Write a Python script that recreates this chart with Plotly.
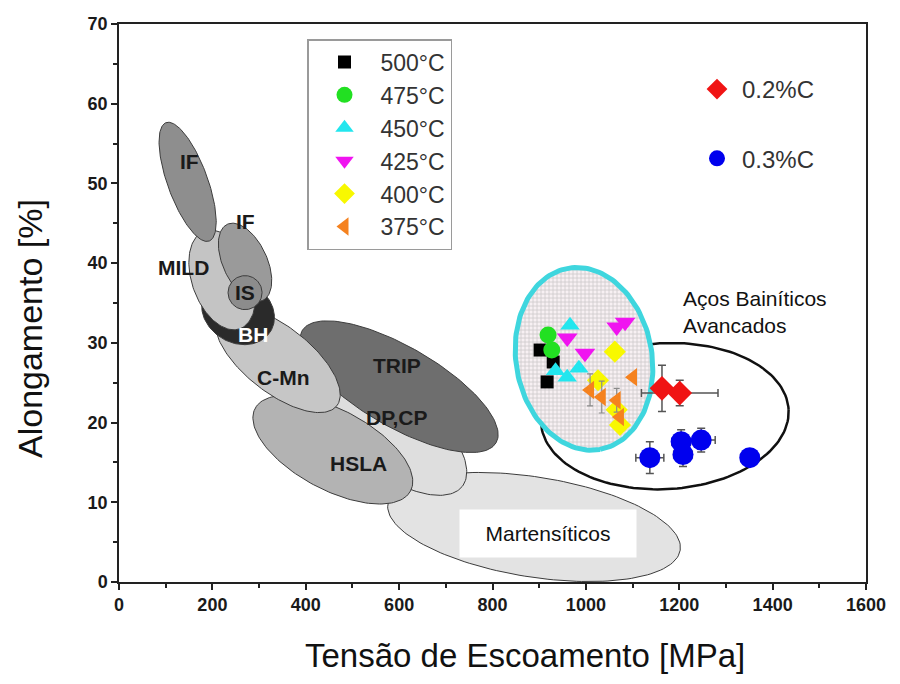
import numpy as np
import plotly.graph_objects as go

# ---------------- data ----------------
temp_labels = ["500°C", "475°C", "450°C", "425°C", "400°C", "375°C"]
x500 = [902, 930, 917];              y500 = [29.1, 27.6, 25.1]
x475 = [919, 927];                   y475 = [31.0, 29.1]
x450 = [966, 935, 960, 985];         y450 = [32.2, 26.5, 25.7, 26.8]
x425 = [960, 998, 1066, 1084];       y425 = [30.6, 28.7, 32.0, 32.6]
x400 = [1062, 1026, 1066, 1073];     y400 = [28.9, 25.3, 21.6, 19.7]
x375 = [1101, 1009, 1034, 1066, 1073]; y375 = [25.7, 24.1, 23.2, 22.8, 20.7]
y375_err = [0, 2.0, 2.0, 1.5, 0]

carbon_labels = ["0.2%C", "0.3%C"]
x02 = [1163, 1201];   y02 = [24.3, 23.7]
x02_err = [0, 82];    y02_err = [2.9, 1.6]
x03 = [1137, 1204, 1208, 1247, 1351]; y03 = [15.6, 17.6, 16.0, 17.8, 15.6]
x03_err = [30, 20, 20, 30, 0];        y03_err = [2.0, 1.5, 1.5, 1.5, 0]

# steel-class regions: centre (MPa, %), label position (MPa, %)
region_names = ["Martensíticos", "DP,CP", "HSLA", "TRIP", "C-Mn", "BH", "MILD", "IF2", "IF", "IS"]
region_cx = [889, 580, 458, 600, 340, 255, 221, 270, 147, 270]
region_cy = [6.9, 19.1, 16.6, 24.5, 27.9, 33.9, 37.9, 40.1, 50.2, 36.3]

label_text = ["IF", "IF", "MILD", "IS", "BH", "C-Mn", "TRIP", "DP,CP", "HSLA"]
label_x = [150, 270, 139, 270, 287, 351, 595, 595, 512]
label_y = [52.7, 45.2, 39.4, 36.3, 31.0, 25.7, 27.2, 20.6, 14.9]

bainitic_cx, bainitic_cy = 996, 28.0      # cyan region
advanced_cx, advanced_cy = 1169, 20.8     # black region

x_range = [0, 1600]
y_range = [0, 70]

# ---------------- geometry / styles ----------------
W, H = 900, 684
ML, MR, MT, MB = 119, 34, 24, 102
PW, PH = W - ML - MR, H - MT - MB
sx = PW / (x_range[1] - x_range[0])   # px per MPa
sy = PH / (y_range[1] - y_range[0])   # px per %

region_geom = {  # semi-axes in px, screen angle in degrees
    "Martensíticos": (148, 50, 9, "#e3e3e3"),
    "DP,CP": (92, 42, 38, "#dedede"),
    "HSLA": (88, 40, 28, "#b3b3b3"),
    "TRIP": (112, 40, 30, "#6e6e6e"),
    "C-Mn": (75, 33, 38, "#c6c6c6"),
    "BH": (38, 31, 30, "#2a2a2a"),
    "MILD": (52, 30, 70, "#c4c4c4"),
    "IF2": (42, 22, 65, "#9a9a9a"),
    "IF": (63, 20, 70, "#8e8e8e"),
    "IS": (17, 17, 0, "#8c8c8c"),
}


def ellipse(cx, cy, a, b, ang, n=160):
    t = np.linspace(0, 2 * np.pi, n)
    th = np.deg2rad(ang)
    dx = a * np.cos(t) * np.cos(th) - b * np.sin(t) * np.sin(th)
    dy = a * np.cos(t) * np.sin(th) + b * np.sin(t) * np.cos(th)
    return cx + dx / sx, cy - dy / sy


fig = go.Figure()

for name, cx, cy in zip(region_names, region_cx, region_cy):
    a, b, ang, col = region_geom[name]
    ex, ey = ellipse(cx, cy, a, b, ang)
    fig.add_trace(go.Scatter(x=ex, y=ey, mode="lines", fill="toself", fillcolor=col,
                             line=dict(color="#3c3c3c", width=1), hoverinfo="skip",
                             showlegend=False))

# black outline region (advanced bainitic)
ex, ey = ellipse(advanced_cx, advanced_cy, 124, 73, -3)
fig.add_trace(go.Scatter(x=ex, y=ey, mode="lines", line=dict(color="#111", width=2.5),
                         hoverinfo="skip", showlegend=False))
# cyan hatched region
ex, ey = ellipse(bainitic_cx, bainitic_cy, 92, 68, 80)
fig.add_trace(go.Scatter(x=ex, y=ey, mode="lines", fill="toself",
                         fillpattern=dict(shape="+", fgcolor="#a0a0a0", bgcolor="#f7f0f3",
                                          size=4, solidity=0.35),
                         line=dict(color="#3fd6de", width=5), hoverinfo="skip",
                         showlegend=False))

err_col = "#555555"
series = [
    (x500, y500, "square", "#000000", 13, None),
    (x475, y475, "circle", "#22e022", 17, None),
    (x450, y450, "triangle-up", "#22e6ee", 17, None),
    (x425, y425, "triangle-down", "#f014f0", 18, None),
    (x400, y400, "diamond", "#f8f800", 17, None),
    (x375, y375, "triangle-left", "#f5821f", 16, y375_err),
]
for lab, (xs, ys, sym, col, sz, ye) in zip(temp_labels, series):
    fig.add_trace(go.Scatter(
        x=xs, y=ys, mode="markers", name=lab, legendgroup=lab, legend="legend",
        marker=dict(symbol=sym, color=col, size=sz, line=dict(width=0)),
        error_y=(dict(type="data", array=ye, color="#8a8a8a", thickness=1.2, width=3)
                 if ye else None)))

fig.add_trace(go.Scatter(
    x=x02, y=y02, mode="markers", name=carbon_labels[0], legendgroup="c02", legend="legend2",
    marker=dict(symbol="diamond", color="#f01414", size=19, line=dict(width=0)),
    error_x=dict(type="data", array=x02_err, color=err_col, thickness=1.5, width=4),
    error_y=dict(type="data", array=y02_err, color=err_col, thickness=1.5, width=4)))
fig.add_trace(go.Scatter(
    x=x03, y=y03, mode="markers", name=carbon_labels[1], legendgroup="c03", legend="legend2",
    marker=dict(symbol="circle", color="#0000ee", size=21, line=dict(width=0)),
    error_x=dict(type="data", array=x03_err, color=err_col, thickness=1.5, width=4),
    error_y=dict(type="data", array=y03_err, color=err_col, thickness=1.5, width=4)))

annotations = []
for t, lx, ly in zip(label_text, label_x, label_y):
    annotations.append(dict(x=lx, y=ly, text=t, showarrow=False,
                            font=dict(family="Arial", size=21, weight="bold",
                                      color="white" if t == "BH" else "#1a1a1a")))
annotations.append(dict(x=919, y=6.1, text="Martensíticos", showarrow=False,
                        font=dict(family="Arial", size=21, color="#111"),
                        bgcolor="white", width=174, height=45))
annotations.append(dict(x=1204, y=33.9, text="Aços Bainíticos<br>Avancados", showarrow=False,
                        xanchor="left", align="left",
                        font=dict(family="Arial", size=21, color="#111")))
annotations.append(dict(xref="paper", yref="paper", x=(525 - ML) / PW, y=(582 - 655) / PH,
                        text="Tensão de Escoamento [MPa]", showarrow=False,
                        yanchor="middle", font=dict(family="Arial", size=33, color="#111")))
annotations.append(dict(xref="paper", yref="paper", x=(30 - ML) / PW, y=(582 - 329) / PH,
                        text="Alongamento [%]", showarrow=False, textangle=-90,
                        xanchor="center", yanchor="middle",
                        font=dict(family="Arial", size=34, color="#111")))

axis_common = dict(showgrid=False, zeroline=False, showline=True, linecolor="#222",
                   linewidth=1.5, mirror=True, ticks="outside", ticklen=6, tickwidth=1.5,
                   tickcolor="#222",
                   tickfont=dict(family="Arial", size=18, weight="bold", color="#1a1a1a"))

fig.update_layout(
    width=W, height=H, margin=dict(l=ML, r=MR, t=MT, b=MB),
    plot_bgcolor="white", paper_bgcolor="white",
    xaxis=dict(range=x_range, dtick=200,
               minor=dict(dtick=100, ticks="outside", ticklen=4, tickcolor="#222"),
               **axis_common),
    yaxis=dict(range=y_range, dtick=10,
               minor=dict(dtick=5, ticks="outside", ticklen=4, tickcolor="#222"),
               **axis_common),
    legend=dict(x=(307 - ML) / PW, y=(582 - 39) / PH, xanchor="left", yanchor="top",
                bordercolor="#9a9a9a", borderwidth=1.5, bgcolor="white",
                traceorder="grouped", tracegroupgap=0, itemwidth=62,
                font=dict(family="Arial", size=23, color="#333")),
    legend2=dict(x=(692 - ML) / PW, y=(582 - 67) / PH, xanchor="left", yanchor="top",
                 bgcolor="rgba(0,0,0,0)", borderwidth=0,
                 traceorder="grouped", tracegroupgap=35, itemwidth=40,
                 font=dict(family="Arial", size=24, color="#333")),
    annotations=annotations,
)

fig.write_html("out.html", config={"displayModeBar": False},
               post_script="document.body.style.margin='0';")
